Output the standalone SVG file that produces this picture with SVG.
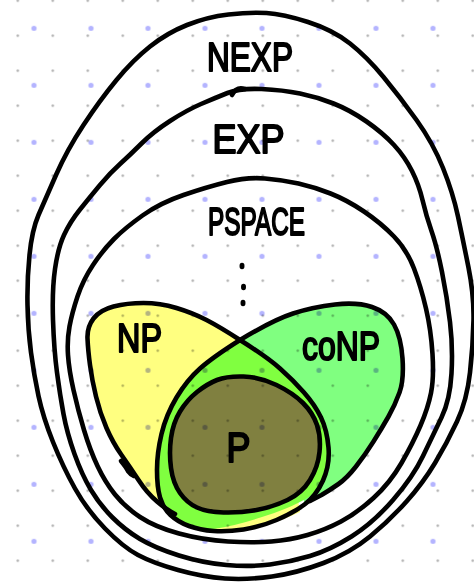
<svg xmlns="http://www.w3.org/2000/svg" width="474" height="584" viewBox="0 0 474 584">
<style>
.ln{fill:none;stroke:#000;stroke-width:4.6;stroke-linecap:round;stroke-linejoin:round}
.lbl{font-family:"Liberation Sans","DejaVu Sans",sans-serif;fill:#000;stroke:#000;stroke-width:2;stroke-linejoin:round;text-anchor:middle}
.grid{mix-blend-mode:multiply}
</style>
<defs>
<pattern id="gsmall" patternUnits="userSpaceOnUse" x="0.3" y="-16.8" width="35" height="35"><circle cx="17.5" cy="17.5" r="1.2" fill="#aaaaaa"/></pattern>
<pattern id="gbig" patternUnits="userSpaceOnUse" x="5.5" y="-0.2" width="57" height="57"><circle cx="28.5" cy="28.5" r="2.6" fill="#b4b4ff"/></pattern>
</defs>
<rect width="474" height="584" fill="#fff"/>
<g id="nexp">
<path class="ln" d="M228.5,14.5 Q250,12 266.5,13 Q283,14 308,22 Q333,30 350,43.5 Q367,57 383.5,77 Q400,97 416.5,120 Q433,143 443,168 Q453,193 458,216.5 Q463,240 468.5,267.5 Q474,295 473.5,320 Q473,345 470,372.5 Q467,400 457,421.5 Q447,443 435,463 Q423,483 406.5,501.5 Q390,520 370,536.5 Q350,553 323.5,563 Q297,573 272,576.5 Q247,580 225,578.5 Q203,577 178,570 Q153,563 138,555 Q123,547 105,528.5 Q87,510 75,488.5 Q63,467 53,442 Q43,417 38.5,396 Q34,375 31,352.5 Q28,330 27.5,305 Q27,280 29.5,255 Q32,230 38.5,215 Q45,200 56,175 Q67,150 83.5,125 Q100,100 116.5,80 Q133,60 150,46.5 Q167,33 187,25 Q207,17 228.5,14.5 Z"/>
<text class="lbl" x="250" y="71" font-size="40" textLength="86" lengthAdjust="spacingAndGlyphs">NEXP</text>
</g>
<g id="exp">
<path class="ln" d="M227.5,93 Q240,88 261.5,89 Q283,90 300,93.5 Q317,97 333.5,103.5 Q350,110 366.5,121.5 Q383,133 394,145 Q405,157 412,171 Q419,185 422.5,200 Q426,215 431.5,231 Q437,247 442,272 Q447,297 450,322 Q453,347 451.5,373.5 Q450,400 441.5,417.5 Q433,435 423,456 Q413,477 393,500 Q373,523 351.5,536.5 Q330,550 310,556 Q290,562 270,564.5 Q250,567 226.5,565 Q203,563 179,555.5 Q155,548 140,539 Q125,530 112.5,517.5 Q100,505 91,490 Q82,475 74.5,454 Q67,433 63.5,414 Q60,395 57,372.5 Q54,350 53,320 Q52,290 55,269 Q58,248 64,235 Q70,222 80,209.5 Q90,197 100,185 Q110,173 120,164 Q130,155 141.5,143.5 Q153,132 170,121 Q187,110 201,104 Q215,98 227.5,93 Z"/>
<path class="ln" d="M232,95 C235,89 239,87 245,89"/>
<text class="lbl" x="248.5" y="153" font-size="40" textLength="72" lengthAdjust="spacingAndGlyphs">EXP</text>
</g>
<g id="pspace">
<path class="ln" d="M227,182 Q247,177 265,178.5 Q283,180 298.5,183.5 Q314,187 330.5,193.5 Q347,200 364,211.5 Q381,223 394,236.5 Q407,250 414,268.5 Q421,287 426,308.5 Q431,330 432.5,354 Q434,378 431,393 Q428,408 420.5,425.5 Q413,443 401.5,463 Q390,483 373.5,498 Q357,513 341,521.5 Q325,530 307.5,535 Q290,540 271.5,541.5 Q253,543 228,541.5 Q203,540 179,533.5 Q155,527 140,517 Q125,507 115,494.5 Q105,482 97.5,466 Q90,450 84,430 Q78,410 73.5,390 Q69,370 68,355 Q67,340 69.5,326.5 Q72,313 77.5,296.5 Q83,280 93,265 Q103,250 114,239 Q125,228 142.5,215.5 Q160,203 183.5,195 Q207,187 227,182 Z"/>
<text class="lbl" x="256.5" y="235" font-size="38" textLength="97" lengthAdjust="spacingAndGlyphs">PSPACE</text>
<ellipse cx="242" cy="266" rx="2.5" ry="3.2"/>
<ellipse cx="243.5" cy="287" rx="2.5" ry="3.2"/>
<ellipse cx="243" cy="303" rx="2.5" ry="3.2"/>
</g>
<g id="np">
<path fill="#ffff80" d="M240,340 Q220,327 206.5,320 Q193,313 176.5,308 Q160,303 143.5,303 Q127,303 113.5,306.5 Q100,310 93.5,318.5 Q87,327 87.5,338.5 Q88,350 90,365 Q92,380 96,396.5 Q100,413 106.5,428 Q113,443 121.5,455 Q130,467 138.5,480 Q147,493 157,501.5 Q167,510 180,516.5 Q193,523 210,528 L227,533 Q262,530 300,512 L290,450 L250,360 Z"/>
</g>
<g id="conp">
<path fill="#80ff80" d="M240,340 Q273,320 293,313.5 Q313,307 335,304.5 Q357,302 372,307 Q387,312 394,324.5 Q401,337 402.5,358.5 Q404,380 399.5,392.5 Q395,405 388.5,416.5 Q382,428 373.5,441.5 Q365,455 356,466.5 Q347,478 338.5,484 Q330,490 321.5,495 L305,505 L290,450 L250,360 Z"/>
</g>
<g id="np-and-conp">
<path fill="#80ff40" d="M240,340 Q267,357 280,368.5 Q293,380 304,392.5 Q315,405 321,417.5 Q327,430 328.5,447.5 Q330,465 323,480.5 Q316,494 302,501 Q285,510 262,517 Q235,526 213.5,529 Q200,530 189,526 Q178,522 170.5,515 Q163,508 160,497.5 Q157,487 157,470 Q157,453 161.5,434 Q166,415 176.5,397.5 Q187,380 200,368.5 Q213,357 240,340 Z"/>
</g>
<g id="p">
<path fill="#808040" d="M217,380 Q227,376 243.5,376.5 Q260,377 276.5,385 Q293,393 303,403 Q313,413 317,425 Q321,437 319.5,452 Q318,467 310,480 Q302,493 287.5,500 Q273,507 256.5,510 Q240,513 223.5,512.5 Q207,512 197,507.5 Q187,503 180,493 Q173,483 171,468 Q169,453 171,438 Q173,423 180,411.5 Q187,400 197,392 Q207,384 217,380 Z"/>
</g>
<rect class="grid" width="474" height="584" fill="url(#gsmall)"/>
<rect class="grid" width="474" height="584" fill="url(#gbig)"/>
<g id="outlines">
<path class="ln" d="M240,340 Q220,327 206.5,320 Q193,313 176.5,308 Q160,303 143.5,303 Q127,303 113.5,306.5 Q100,310 93.5,318.5 Q87,327 87.5,338.5 Q88,350 90,365 Q92,380 96,396.5 Q100,413 106.5,428 Q113,443 121.5,455 Q130,467 138.5,480 Q147,493 157,501.5 Q167,510 175,514"/>
<path class="ln" d="M121,461 Q126,467 128,471 Q131,475 134,476"/>
<path class="ln" d="M240,340 Q273,320 293,313.5 Q313,307 335,304.5 Q357,302 372,307 Q387,312 394,324.5 Q401,337 402.5,358.5 Q404,380 399.5,392.5 Q395,405 388.5,416.5 Q382,428 373.5,441.5 Q365,455 356,466.5 Q347,478 338.5,484 Q330,490 321.5,495 L310,501"/>
<path class="ln" d="M240,340 Q267,357 280,368.5 Q293,380 304,392.5 Q315,405 321,417.5 Q327,430 328.5,447.5 Q330,465 323,480.5 Q316,496 304.5,504.5 Q293,513 276.5,520 Q260,527 243.5,529.5 Q227,532 213.5,531 Q200,530 189,526 Q178,522 170.5,515 Q163,508 160,497.5 Q157,487 157,470 Q157,453 161.5,434 Q166,415 176.5,397.5 Q187,380 200,368.5 Q213,357 240,340 Z"/>
<path class="ln" d="M217,380 Q227,376 243.5,376.5 Q260,377 276.5,385 Q293,393 303,403 Q313,413 317,425 Q321,437 319.5,452 Q318,467 310,480 Q302,493 287.5,500 Q273,507 256.5,510 Q240,513 223.5,512.5 Q207,512 197,507.5 Q187,503 180,493 Q173,483 171,468 Q169,453 171,438 Q173,423 180,411.5 Q187,400 197,392 Q207,384 217,380 Z"/>
</g>
<text class="lbl" x="139.5" y="352" font-size="40" textLength="45" lengthAdjust="spacingAndGlyphs">NP</text>
<text class="lbl" x="341" y="360" font-size="40" textLength="78" lengthAdjust="spacingAndGlyphs">coNP</text>
<text class="lbl" x="238.5" y="462" font-size="42" textLength="24" lengthAdjust="spacingAndGlyphs">P</text>
</svg>
